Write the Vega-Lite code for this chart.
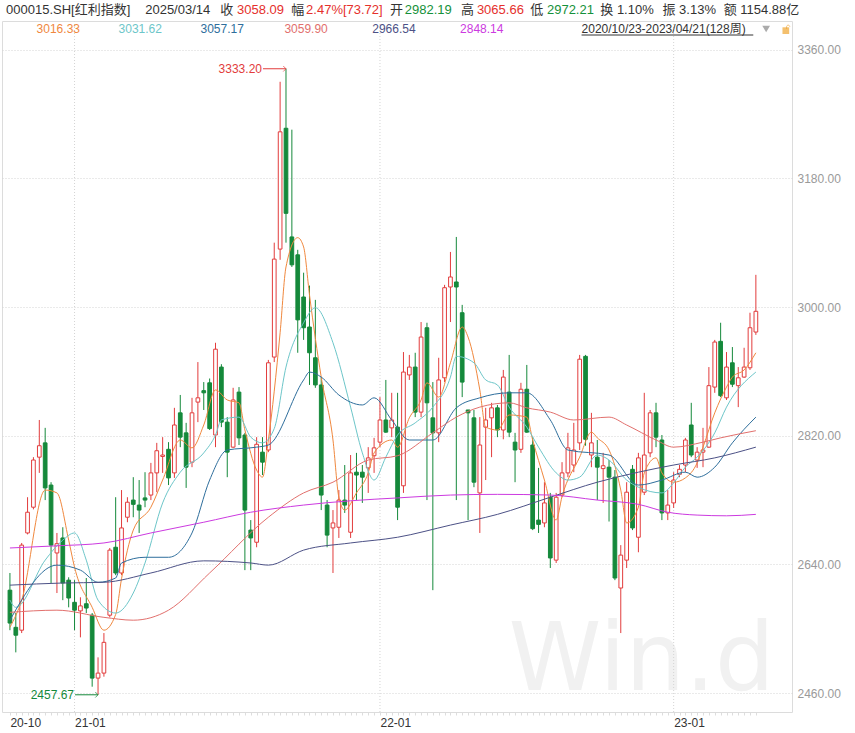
{
"$schema": "https://vega.github.io/schema/vega-lite/v6.json",
"width": 790, "height": 691,
"autosize": {"type": "none"},
"padding": {"left": 2, "top": 21, "right": 63, "bottom": 21},
"background": "white",
"config": {"view": {"stroke": "#dcdcdc"}, "text": {"font": "Liberation Sans, Noto Sans CJK SC"}},
"resolve": {"axis": {"x": "independent", "y": "independent"}},
"datasets": {
"k": [
{"i":0,"o":2604,"h":2628,"l":2548,"c":2558},{"i":1,"o":2552,"h":2572,"l":2517,"c":2541},{"i":2,"o":2548,"h":2670,"l":2544,"c":2667},{"i":3,"o":2684,"h":2734,"l":2682,"c":2713},{"i":4,"o":2720,"h":2790,"l":2717,"c":2786},{"i":5,"o":2790,"h":2842,"l":2768,"c":2806},{"i":6,"o":2810,"h":2831,"l":2730,"c":2747},{"i":7,"o":2751,"h":2755,"l":2614,"c":2667},{"i":8,"o":2656,"h":2684,"l":2600,"c":2669},{"i":9,"o":2677,"h":2692,"l":2590,"c":2614},
{"i":10,"o":2618,"h":2622,"l":2580,"c":2593},{"i":11,"o":2587,"h":2618,"l":2548,"c":2576},{"i":12,"o":2575,"h":2594,"l":2538,"c":2582},{"i":13,"o":2585,"h":2621,"l":2572,"c":2579},{"i":14,"o":2569,"h":2572,"l":2469,"c":2481},{"i":15,"o":2481,"h":2510,"l":2457.67,"c":2488},{"i":16,"o":2488,"h":2544,"l":2483,"c":2531},{"i":17,"o":2569,"h":2663,"l":2566,"c":2660},{"i":18,"o":2664,"h":2734,"l":2625,"c":2628},{"i":19,"o":2628,"h":2744,"l":2625,"c":2691},
{"i":20,"o":2706,"h":2734,"l":2699,"c":2727},{"i":21,"o":2730,"h":2762,"l":2706,"c":2724},{"i":22,"o":2723,"h":2758,"l":2684,"c":2716},{"i":23,"o":2733,"h":2769,"l":2720,"c":2730},{"i":24,"o":2737,"h":2782,"l":2730,"c":2768},{"i":25,"o":2768,"h":2810,"l":2741,"c":2799},{"i":26,"o":2791,"h":2818,"l":2768,"c":2793},{"i":27,"o":2801,"h":2811,"l":2751,"c":2761},{"i":28,"o":2768,"h":2859,"l":2761,"c":2835},{"i":29,"o":2852,"h":2877,"l":2804,"c":2818},
{"i":30,"o":2824,"h":2838,"l":2747,"c":2776},{"i":31,"o":2783,"h":2873,"l":2776,"c":2852},{"i":32,"o":2867,"h":2923,"l":2839,"c":2873},{"i":33,"o":2883,"h":2895,"l":2856,"c":2880},{"i":34,"o":2894,"h":2900,"l":2828,"c":2830},{"i":35,"o":2821,"h":2950,"l":2804,"c":2941},{"i":36,"o":2916,"h":2920,"l":2832,"c":2839},{"i":37,"o":2839,"h":2846,"l":2762,"c":2797},{"i":38,"o":2804,"h":2887,"l":2803,"c":2870},{"i":39,"o":2881,"h":2888,"l":2807,"c":2817},
{"i":40,"o":2821,"h":2824,"l":2632,"c":2716},{"i":41,"o":2688,"h":2702,"l":2632,"c":2677},{"i":42,"o":2671,"h":2818,"l":2664,"c":2808},{"i":43,"o":2797,"h":2818,"l":2765,"c":2783},{"i":44,"o":2800,"h":2926,"l":2797,"c":2922},{"i":45,"o":2930,"h":3090,"l":2923,"c":3067},{"i":46,"o":3081,"h":3315,"l":3066,"c":3245},{"i":47,"o":3250,"h":3333.2,"l":3090,"c":3131},{"i":48,"o":3098,"h":3248,"l":3056,"c":3059},{"i":49,"o":3073,"h":3080,"l":2936,"c":2982},
{"i":50,"o":3014,"h":3048,"l":2954,"c":2971},{"i":51,"o":2972,"h":3030,"l":2891,"c":2936},{"i":52,"o":2929,"h":3010,"l":2887,"c":2891},{"i":53,"o":2891,"h":2902,"l":2716,"c":2737},{"i":54,"o":2723,"h":2730,"l":2664,"c":2681},{"i":55,"o":2691,"h":2716,"l":2628,"c":2698},{"i":56,"o":2692,"h":2744,"l":2677,"c":2730},{"i":57,"o":2730,"h":2779,"l":2712,"c":2723},{"i":58,"o":2685,"h":2793,"l":2677,"c":2768},{"i":59,"o":2769,"h":2796,"l":2730,"c":2765},
{"i":60,"o":2769,"h":2779,"l":2726,"c":2762},{"i":61,"o":2775,"h":2804,"l":2740,"c":2789},{"i":62,"o":2792,"h":2817,"l":2768,"c":2803},{"i":63,"o":2811,"h":2874,"l":2804,"c":2842},{"i":64,"o":2842,"h":2898,"l":2824,"c":2825},{"i":65,"o":2831,"h":2880,"l":2818,"c":2842},{"i":66,"o":2832,"h":2880,"l":2702,"c":2720},{"i":67,"o":2750,"h":2937,"l":2740,"c":2909},{"i":68,"o":2905,"h":2933,"l":2898,"c":2916},{"i":69,"o":2916,"h":2936,"l":2846,"c":2853},
{"i":70,"o":2853,"h":2979,"l":2846,"c":2958},{"i":71,"o":2971,"h":2978,"l":2730,"c":2866},{"i":72,"o":2845,"h":2895,"l":2604,"c":2824},{"i":73,"o":2824,"h":2929,"l":2811,"c":2898},{"i":74,"o":2901,"h":3031,"l":2895,"c":3027},{"i":75,"o":3028,"h":3077,"l":2979,"c":3042},{"i":76,"o":3035,"h":3098,"l":2730,"c":3028},{"i":77,"o":2992,"h":3003,"l":2874,"c":2895},{"i":78,"o":2856,"h":2856,"l":2702,"c":2852},{"i":79,"o":2845,"h":2856,"l":2748,"c":2755},
{"i":80,"o":2740,"h":2846,"l":2684,"c":2807},{"i":81,"o":2832,"h":2859,"l":2758,"c":2842},{"i":82,"o":2845,"h":2866,"l":2790,"c":2859},{"i":83,"o":2859,"h":2863,"l":2818,"c":2828},{"i":84,"o":2828,"h":2912,"l":2815,"c":2902},{"i":85,"o":2881,"h":2933,"l":2818,"c":2825},{"i":86,"o":2811,"h":2824,"l":2755,"c":2800},{"i":87,"o":2801,"h":2894,"l":2796,"c":2885},{"i":88,"o":2885,"h":2919,"l":2824,"c":2825},{"i":89,"o":2807,"h":2818,"l":2688,"c":2690},
{"i":90,"o":2702,"h":2775,"l":2684,"c":2696},{"i":91,"o":2698,"h":2755,"l":2692,"c":2726},{"i":92,"o":2734,"h":2740,"l":2635,"c":2649},{"i":93,"o":2646,"h":2740,"l":2642,"c":2734},{"i":94,"o":2737,"h":2783,"l":2734,"c":2768},{"i":95,"o":2768,"h":2824,"l":2762,"c":2803},{"i":96,"o":2779,"h":2838,"l":2769,"c":2800},{"i":97,"o":2810,"h":2933,"l":2800,"c":2927},{"i":98,"o":2931,"h":2933,"l":2806,"c":2815},{"i":99,"o":2793,"h":2852,"l":2776,"c":2810},
{"i":100,"o":2790,"h":2814,"l":2730,"c":2776},{"i":101,"o":2774,"h":2796,"l":2726,"c":2778},{"i":102,"o":2776,"h":2786,"l":2700,"c":2762},{"i":103,"o":2762,"h":2772,"l":2618,"c":2621},{"i":104,"o":2607,"h":2667,"l":2544,"c":2653},{"i":105,"o":2646,"h":2755,"l":2635,"c":2741},{"i":106,"o":2773,"h":2779,"l":2688,"c":2691},{"i":107,"o":2678,"h":2796,"l":2657,"c":2789},{"i":108,"o":2741,"h":2880,"l":2737,"c":2793},{"i":109,"o":2796,"h":2856,"l":2790,"c":2852},
{"i":110,"o":2852,"h":2866,"l":2804,"c":2818},{"i":111,"o":2814,"h":2821,"l":2702,"c":2712},{"i":112,"o":2712,"h":2744,"l":2702,"c":2723},{"i":113,"o":2726,"h":2769,"l":2719,"c":2758},{"i":114,"o":2766,"h":2779,"l":2762,"c":2773},{"i":115,"o":2779,"h":2817,"l":2769,"c":2814},{"i":116,"o":2835,"h":2866,"l":2790,"c":2793},{"i":117,"o":2786,"h":2804,"l":2775,"c":2797},{"i":118,"o":2797,"h":2831,"l":2776,"c":2800},{"i":119,"o":2804,"h":2916,"l":2803,"c":2890},
{"i":120,"o":2888,"h":2954,"l":2880,"c":2951},{"i":121,"o":2952,"h":2978,"l":2874,"c":2876},{"i":122,"o":2873,"h":2937,"l":2870,"c":2916},{"i":123,"o":2922,"h":2944,"l":2888,"c":2892},{"i":124,"o":2890,"h":2916,"l":2860,"c":2901},{"i":125,"o":2902,"h":2943,"l":2901,"c":2916},{"i":126,"o":2915,"h":2992,"l":2912,"c":2971},{"i":127,"o":2965,"h":3045,"l":2961,"c":2994}
],
"ma": [
{"m":"a","i":0,"v":2552},{"m":"a","i":2,"v":2590},{"m":"a","i":6,"v":2744},{"m":"a","i":8,"v":2740},{"m":"a","i":10,"v":2674},{"m":"a","i":11,"v":2636},{"m":"a","i":14,"v":2580},{"m":"a","i":16,"v":2548},{"m":"a","i":18,"v":2570},{"m":"a","i":19,"v":2620},{"m":"a","i":21,"v":2688},{"m":"a","i":24,"v":2720},{"m":"a","i":26,"v":2758},{"m":"a","i":29,"v":2814},{"m":"a","i":31,"v":2803},{"m":"a","i":33,"v":2835},{"m":"a","i":35,"v":2884},{"m":"a","i":37,"v":2870},{"m":"a","i":39,"v":2866},{"m":"a","i":40,"v":2828},{"m":"a","i":42,"v":2772},{"m":"a","i":43,"v":2762},{"m":"a","i":44,"v":2814},{"m":"a","i":46,"v":2964},{"m":"a","i":47,"v":3056},{"m":"a","i":49,"v":3097},{"m":"a","i":50,"v":3084},{"m":"a","i":51,"v":3017},{"m":"a","i":53,"v":2902},{"m":"a","i":55,"v":2814},{"m":"a","i":56,"v":2734},{"m":"a","i":57,"v":2716},{"m":"a","i":59,"v":2740},{"m":"a","i":61,"v":2768},{"m":"a","i":62,"v":2796},{"m":"a","i":65,"v":2814},{"m":"a","i":66,"v":2804},{"m":"a","i":68,"v":2845},{"m":"a","i":70,"v":2870},{"m":"a","i":71,"v":2894},{"m":"a","i":73,"v":2874},{"m":"a","i":75,"v":2922},{"m":"a","i":77,"v":2972},{"m":"a","i":78,"v":2958},{"m":"a","i":80,"v":2884},{"m":"a","i":81,"v":2832},{"m":"a","i":83,"v":2828},{"m":"a","i":85,"v":2849},{"m":"a","i":88,"v":2846},{"m":"a","i":89,"v":2814},{"m":"a","i":91,"v":2758},{"m":"a","i":93,"v":2702},{"m":"a","i":94,"v":2735},{"m":"a","i":97,"v":2790},{"m":"a","i":99,"v":2825},{"m":"a","i":100,"v":2817},{"m":"a","i":102,"v":2800},{"m":"a","i":104,"v":2744},{"m":"a","i":105,"v":2698},{"m":"a","i":107,"v":2720},{"m":"a","i":108,"v":2768},{"m":"a","i":110,"v":2789},{"m":"a","i":111,"v":2768},{"m":"a","i":113,"v":2755},{"m":"a","i":115,"v":2761},{"m":"a","i":117,"v":2782},{"m":"a","i":118,"v":2804},{"m":"a","i":120,"v":2852},{"m":"a","i":122,"v":2888},{"m":"a","i":123,"v":2902},{"m":"a","i":125,"v":2912},{"m":"a","i":127,"v":2936},
{"m":"b","i":0,"v":2590},{"m":"b","i":1,"v":2580},{"m":"b","i":6,"v":2646},{"m":"b","i":9,"v":2674},{"m":"b","i":11,"v":2684},{"m":"b","i":13,"v":2646},{"m":"b","i":15,"v":2590},{"m":"b","i":18,"v":2572},{"m":"b","i":21,"v":2600},{"m":"b","i":23,"v":2642},{"m":"b","i":26,"v":2726},{"m":"b","i":29,"v":2769},{"m":"b","i":33,"v":2796},{"m":"b","i":35,"v":2821},{"m":"b","i":36,"v":2842},{"m":"b","i":39,"v":2846},{"m":"b","i":41,"v":2818},{"m":"b","i":43,"v":2810},{"m":"b","i":45,"v":2830},{"m":"b","i":47,"v":2916},{"m":"b","i":50,"v":2978},{"m":"b","i":52,"v":2999},{"m":"b","i":55,"v":2950},{"m":"b","i":58,"v":2860},{"m":"b","i":60,"v":2796},{"m":"b","i":62,"v":2758},{"m":"b","i":64,"v":2790},{"m":"b","i":66,"v":2821},{"m":"b","i":69,"v":2838},{"m":"b","i":72,"v":2860},{"m":"b","i":75,"v":2902},{"m":"b","i":76,"v":2931},{"m":"b","i":79,"v":2922},{"m":"b","i":81,"v":2898},{"m":"b","i":83,"v":2891},{"m":"b","i":85,"v":2860},{"m":"b","i":88,"v":2832},{"m":"b","i":90,"v":2804},{"m":"b","i":93,"v":2768},{"m":"b","i":95,"v":2758},{"m":"b","i":97,"v":2762},{"m":"b","i":100,"v":2793},{"m":"b","i":102,"v":2786},{"m":"b","i":105,"v":2758},{"m":"b","i":107,"v":2748},{"m":"b","i":111,"v":2740},{"m":"b","i":113,"v":2754},{"m":"b","i":115,"v":2776},{"m":"b","i":117,"v":2790},{"m":"b","i":120,"v":2824},{"m":"b","i":122,"v":2860},{"m":"b","i":127,"v":2909},
{"m":"c","i":0,"v":2562},{"m":"c","i":8,"v":2639},{"m":"c","i":12,"v":2632},{"m":"c","i":15,"v":2615},{"m":"c","i":18,"v":2621},{"m":"c","i":19,"v":2642},{"m":"c","i":23,"v":2650},{"m":"c","i":27,"v":2650},{"m":"c","i":31,"v":2684},{"m":"c","i":34,"v":2758},{"m":"c","i":37,"v":2800},{"m":"c","i":42,"v":2804},{"m":"c","i":44,"v":2807},{"m":"c","i":50,"v":2898},{"m":"c","i":51,"v":2909},{"m":"c","i":53,"v":2902},{"m":"c","i":56,"v":2877},{"m":"c","i":60,"v":2863},{"m":"c","i":62,"v":2873},{"m":"c","i":65,"v":2842},{"m":"c","i":68,"v":2814},{"m":"c","i":72,"v":2814},{"m":"c","i":76,"v":2859},{"m":"c","i":80,"v":2873},{"m":"c","i":85,"v":2880},{"m":"c","i":88,"v":2880},{"m":"c","i":92,"v":2842},{"m":"c","i":95,"v":2800},{"m":"c","i":102,"v":2793},{"m":"c","i":107,"v":2751},{"m":"c","i":111,"v":2758},{"m":"c","i":115,"v":2769},{"m":"c","i":117,"v":2762},{"m":"c","i":120,"v":2776},{"m":"c","i":123,"v":2810},{"m":"c","i":127,"v":2846},
{"m":"d","i":0,"v":2573},{"m":"d","i":8,"v":2576},{"m":"d","i":16,"v":2566},{"m":"d","i":21,"v":2562},{"m":"d","i":27,"v":2576},{"m":"d","i":34,"v":2628},{"m":"d","i":44,"v":2706},{"m":"d","i":50,"v":2740},{"m":"d","i":55,"v":2755},{"m":"d","i":61,"v":2786},{"m":"d","i":66,"v":2792},{"m":"d","i":72,"v":2824},{"m":"d","i":76,"v":2846},{"m":"d","i":80,"v":2860},{"m":"d","i":85,"v":2866},{"m":"d","i":88,"v":2859},{"m":"d","i":92,"v":2853},{"m":"d","i":96,"v":2842},{"m":"d","i":102,"v":2846},{"m":"d","i":105,"v":2835},{"m":"d","i":110,"v":2814},{"m":"d","i":113,"v":2804},{"m":"d","i":118,"v":2811},{"m":"d","i":121,"v":2817},{"m":"d","i":127,"v":2827},
{"m":"e","i":0,"v":2611},{"m":"e","i":9,"v":2614},{"m":"e","i":16,"v":2615},{"m":"e","i":24,"v":2628},{"m":"e","i":33,"v":2645},{"m":"e","i":41,"v":2642},{"m":"e","i":44,"v":2639},{"m":"e","i":50,"v":2660},{"m":"e","i":58,"v":2670},{"m":"e","i":66,"v":2678},{"m":"e","i":75,"v":2695},{"m":"e","i":83,"v":2710},{"m":"e","i":92,"v":2734},{"m":"e","i":100,"v":2755},{"m":"e","i":107,"v":2769},{"m":"e","i":113,"v":2779},{"m":"e","i":120,"v":2789},{"m":"e","i":127,"v":2804},
{"m":"f","i":0,"v":2663},{"m":"f","i":8,"v":2666},{"m":"f","i":16,"v":2670},{"m":"f","i":24,"v":2684},{"m":"f","i":33,"v":2699},{"m":"f","i":41,"v":2713},{"m":"f","i":50,"v":2723},{"m":"f","i":58,"v":2729},{"m":"f","i":66,"v":2733},{"m":"f","i":75,"v":2737},{"m":"f","i":83,"v":2738},{"m":"f","i":92,"v":2737},{"m":"f","i":100,"v":2730},{"m":"f","i":107,"v":2724},{"m":"f","i":112,"v":2713},{"m":"f","i":117,"v":2709},{"m":"f","i":122,"v":2708},{"m":"f","i":127,"v":2710}
]
},
"layer": [
{"data": {"values": [{}]}, "mark": {"type": "text", "align": "left", "baseline": "bottom", "fontSize": 94, "color": "#f1f1f1", "font": "DejaVu Sans"},
 "encoding": {"x": {"datum": 84.9, "type": "quantitative", "axis": null}, "y": {"datum": 2437, "type": "quantitative", "axis": null}, "text": {"value": "Win.d"}}},
{"data": {"values": [{"g": 11}, {"g": 63}, {"g": 113}]}, "mark": {"type": "rule", "color": "#d4d4d4", "strokeDash": [1, 2]},
 "encoding": {"x": {"field": "g", "type": "quantitative", "axis": null}}},
{"data": {"name": "k"}, "mark": {"type": "rule", "strokeWidth": 1},
 "encoding": {
  "x": {"field": "i", "type": "quantitative", "scale": {"domain": [-0.5, 132.3], "nice": false, "zero": false},
   "axis": {"orient": "bottom", "title": null, "domain": false, "grid": false, "ticks": true, "tickSize": 3, "tickColor": "#dddddd", "labelAlign": "left", "labelPadding": 2, "labelColor": "#333333", "labelFontSize": 12, "labelFont": "Liberation Sans", "labelOverlap": false, "labelFlush": false,
    "values": [0,1,2,3,4,5,6,7,8,9,10,11,12,13,14,15,16,17,18,19,20,21,22,23,24,25,26,27,28,29,30,31,32,33,34,35,36,37,38,39,40,41,42,43,44,45,46,47,48,49,50,51,52,53,54,55,56,57,58,59,60,61,62,63,64,65,66,67,68,69,70,71,72,73,74,75,76,77,78,79,80,81,82,83,84,85,86,87,88,89,90,91,92,93,94,95,96,97,98,99,100,101,102,103,104,105,106,107,108,109,110,111,112,113,114,115,116,117,118,119,120,121,122,123,124,125,126,127],
    "labelExpr": "datum.value == 0 ? '20-10' : datum.value == 11 ? '21-01' : datum.value == 63 ? '22-01' : datum.value == 113 ? '23-01' : ''"}},
  "y": {"field": "l", "type": "quantitative", "scale": {"domain": [2433.6, 3400], "nice": false, "zero": false},
   "axis": {"orient": "right", "title": null, "values": [2460, 2640, 2820, 3000, 3180, 3360], "format": ".2f", "domain": false, "ticks": false, "labelPadding": 5, "labelColor": "#9a9a9a", "labelFontSize": 12, "labelFont": "Liberation Sans", "grid": true, "gridColor": "#d4d4d4", "gridDash": [1, 2]}},
  "y2": {"field": "h"},
  "color": {"condition": {"test": "datum.c >= datum.o", "value": "#e23c3c"}, "value": "#15893b"}
 }},
{"data": {"name": "k"}, "mark": {"type": "bar", "size": 3.7, "strokeWidth": 1},
 "encoding": {
  "x": {"field": "i", "type": "quantitative", "axis": null},
  "y": {"field": "o", "type": "quantitative", "axis": null},
  "y2": {"field": "c"},
  "fill": {"condition": {"test": "datum.c >= datum.o", "value": "#ffffff"}, "value": "#15893b"},
  "stroke": {"condition": {"test": "datum.c >= datum.o", "value": "#e23c3c"}, "value": "#15893b"}
 }},
{"data": {"name": "ma"}, "mark": {"type": "line", "strokeWidth": 1, "interpolate": "monotone"},
 "encoding": {
  "x": {"field": "i", "type": "quantitative", "axis": null},
  "y": {"field": "v", "type": "quantitative", "axis": null},
  "color": {"field": "m", "type": "nominal", "legend": null, "scale": {"domain": ["a", "b", "c", "d", "e", "f"], "range": ["#f0883e", "#6dc6c9", "#2e6e9c", "#e2706d", "#4c5186", "#cc3ae0"]}}
 }},
{"data": {"values": [{"i": 47, "v": 3333.2, "s": "3333.20"}, {"i": 15, "v": 2457.67, "s": "2457.67"}]},
 "layer": [
  {"mark": {"type": "text", "align": "right", "baseline": "middle", "dx": -24, "fontSize": 12, "font": "Liberation Sans"},
   "encoding": {"x": {"field": "i", "type": "quantitative", "axis": null}, "y": {"field": "v", "type": "quantitative", "axis": null}, "text": {"field": "s"},
    "color": {"condition": {"test": "datum.v > 3000", "value": "#e23c3c"}, "value": "#15893b"}}},
  {"mark": {"type": "rule", "xOffset": -23, "x2Offset": 0, "strokeWidth": 1},
   "encoding": {"x": {"field": "i", "type": "quantitative", "axis": null}, "x2": {"field": "i"}, "y": {"field": "v", "type": "quantitative", "axis": null},
    "color": {"condition": {"test": "datum.v > 3000", "value": "#e23c3c"}, "value": "#15893b"}}},
  {"mark": {"type": "point", "shape": "M -1 -1 L 0 0 L -1 1", "filled": false, "size": 30, "strokeWidth": 1},
   "encoding": {"x": {"field": "i", "type": "quantitative", "axis": null}, "y": {"field": "v", "type": "quantitative", "axis": null},
    "color": {"condition": {"test": "datum.v > 3000", "value": "#e23c3c"}, "value": "#15893b"}}}
 ]},
{"data": {"values": [{}]},
 "layer": [
  {"mark": {"type": "text", "align": "left", "baseline": "middle", "fontSize": 13, "color": "#333333"}, "encoding": {"x": {"datum": -0.67, "type": "quantitative", "axis": null}, "y": {"datum": 3415.4, "type": "quantitative", "axis": null}, "text": {"value": "000015.SH[红利指数]"}}},
  {"mark": {"type": "text", "align": "left", "baseline": "middle", "fontSize": 13, "color": "#333333"}, "encoding": {"x": {"datum": 23.03, "type": "quantitative", "axis": null}, "y": {"datum": 3415.4, "type": "quantitative", "axis": null}, "text": {"value": "2025/03/14"}}},
  {"mark": {"type": "text", "align": "left", "baseline": "middle", "fontSize": 13, "color": "#333333"}, "encoding": {"x": {"datum": 35.8, "type": "quantitative", "axis": null}, "y": {"datum": 3415.4, "type": "quantitative", "axis": null}, "text": {"value": "收"}}},
  {"mark": {"type": "text", "align": "left", "baseline": "middle", "fontSize": 13, "color": "#e5302c"}, "encoding": {"x": {"datum": 38.66, "type": "quantitative", "axis": null}, "y": {"datum": 3415.4, "type": "quantitative", "axis": null}, "text": {"value": "3058.09"}}},
  {"mark": {"type": "text", "align": "left", "baseline": "middle", "fontSize": 13, "color": "#333333"}, "encoding": {"x": {"datum": 47.9, "type": "quantitative", "axis": null}, "y": {"datum": 3415.4, "type": "quantitative", "axis": null}, "text": {"value": "幅"}}},
  {"mark": {"type": "text", "align": "left", "baseline": "middle", "fontSize": 13, "color": "#e5302c"}, "encoding": {"x": {"datum": 50.42, "type": "quantitative", "axis": null}, "y": {"datum": 3415.4, "type": "quantitative", "axis": null}, "text": {"value": "2.47%[73.72]"}}},
  {"mark": {"type": "text", "align": "left", "baseline": "middle", "fontSize": 13, "color": "#333333"}, "encoding": {"x": {"datum": 64.71, "type": "quantitative", "axis": null}, "y": {"datum": 3415.4, "type": "quantitative", "axis": null}, "text": {"value": "开"}}},
  {"mark": {"type": "text", "align": "left", "baseline": "middle", "fontSize": 13, "color": "#15913a"}, "encoding": {"x": {"datum": 67.23, "type": "quantitative", "axis": null}, "y": {"datum": 3415.4, "type": "quantitative", "axis": null}, "text": {"value": "2982.19"}}},
  {"mark": {"type": "text", "align": "left", "baseline": "middle", "fontSize": 13, "color": "#333333"}, "encoding": {"x": {"datum": 76.81, "type": "quantitative", "axis": null}, "y": {"datum": 3415.4, "type": "quantitative", "axis": null}, "text": {"value": "高"}}},
  {"mark": {"type": "text", "align": "left", "baseline": "middle", "fontSize": 13, "color": "#e5302c"}, "encoding": {"x": {"datum": 79.5, "type": "quantitative", "axis": null}, "y": {"datum": 3415.4, "type": "quantitative", "axis": null}, "text": {"value": "3065.66"}}},
  {"mark": {"type": "text", "align": "left", "baseline": "middle", "fontSize": 13, "color": "#333333"}, "encoding": {"x": {"datum": 88.58, "type": "quantitative", "axis": null}, "y": {"datum": 3415.4, "type": "quantitative", "axis": null}, "text": {"value": "低"}}},
  {"mark": {"type": "text", "align": "left", "baseline": "middle", "fontSize": 13, "color": "#15913a"}, "encoding": {"x": {"datum": 91.43, "type": "quantitative", "axis": null}, "y": {"datum": 3415.4, "type": "quantitative", "axis": null}, "text": {"value": "2972.21"}}},
  {"mark": {"type": "text", "align": "left", "baseline": "middle", "fontSize": 13, "color": "#333333"}, "encoding": {"x": {"datum": 100.51, "type": "quantitative", "axis": null}, "y": {"datum": 3415.4, "type": "quantitative", "axis": null}, "text": {"value": "换 1.10%"}}},
  {"mark": {"type": "text", "align": "left", "baseline": "middle", "fontSize": 13, "color": "#333333"}, "encoding": {"x": {"datum": 111.1, "type": "quantitative", "axis": null}, "y": {"datum": 3415.4, "type": "quantitative", "axis": null}, "text": {"value": "振 3.13%"}}},
  {"mark": {"type": "text", "align": "left", "baseline": "middle", "fontSize": 13, "color": "#333333"}, "encoding": {"x": {"datum": 121.52, "type": "quantitative", "axis": null}, "y": {"datum": 3415.4, "type": "quantitative", "axis": null}, "text": {"value": "额 1154.88亿"}}},
  {"mark": {"type": "text", "align": "left", "baseline": "middle", "fontSize": 12, "color": "#f0883e"}, "encoding": {"x": {"datum": 4.54, "type": "quantitative", "axis": null}, "y": {"datum": 3388.8, "type": "quantitative", "axis": null}, "text": {"value": "3016.33"}}},
  {"mark": {"type": "text", "align": "left", "baseline": "middle", "fontSize": 12, "color": "#6dc6c9"}, "encoding": {"x": {"datum": 18.49, "type": "quantitative", "axis": null}, "y": {"datum": 3388.8, "type": "quantitative", "axis": null}, "text": {"value": "3031.62"}}},
  {"mark": {"type": "text", "align": "left", "baseline": "middle", "fontSize": 12, "color": "#2e6e9c"}, "encoding": {"x": {"datum": 32.44, "type": "quantitative", "axis": null}, "y": {"datum": 3388.8, "type": "quantitative", "axis": null}, "text": {"value": "3057.17"}}},
  {"mark": {"type": "text", "align": "left", "baseline": "middle", "fontSize": 12, "color": "#e2706d"}, "encoding": {"x": {"datum": 46.73, "type": "quantitative", "axis": null}, "y": {"datum": 3388.8, "type": "quantitative", "axis": null}, "text": {"value": "3059.90"}}},
  {"mark": {"type": "text", "align": "left", "baseline": "middle", "fontSize": 12, "color": "#4c5186"}, "encoding": {"x": {"datum": 61.68, "type": "quantitative", "axis": null}, "y": {"datum": 3388.8, "type": "quantitative", "axis": null}, "text": {"value": "2966.54"}}},
  {"mark": {"type": "text", "align": "left", "baseline": "middle", "fontSize": 12, "color": "#cc3ae0"}, "encoding": {"x": {"datum": 76.64, "type": "quantitative", "axis": null}, "y": {"datum": 3388.8, "type": "quantitative", "axis": null}, "text": {"value": "2848.14"}}},
  {"mark": {"type": "text", "align": "left", "baseline": "middle", "fontSize": 12, "color": "#333333"}, "encoding": {"x": {"datum": 97.32, "type": "quantitative", "axis": null}, "y": {"datum": 3388.8, "type": "quantitative", "axis": null}, "text": {"value": "2020/10/23-2023/04/21(128周)"}}},
  {"mark": {"type": "rule", "color": "#333333", "strokeWidth": 1}, "encoding": {"x": {"datum": 97.32, "type": "quantitative", "axis": null}, "x2": {"datum": 126.56}, "y": {"datum": 3380.4, "type": "quantitative", "axis": null}}},
  {"mark": {"type": "point", "shape": "triangle-down", "filled": true, "size": 60, "color": "#888888"}, "encoding": {"x": {"datum": 128.75, "type": "quantitative", "axis": null}, "y": {"datum": 3388.8, "type": "quantitative", "axis": null}}},
  {"mark": {"type": "point", "shape": "square", "filled": true, "size": 45, "color": "#f0a531"}, "encoding": {"x": {"datum": 132.1, "type": "quantitative", "axis": null}, "y": {"datum": 3386.5, "type": "quantitative", "axis": null}}},
  {"mark": {"type": "point", "shape": "M -0.5 0.6 L -0.5 -0.1 A 0.5 0.5 0 0 1 0.5 -0.1", "filled": false, "size": 40, "strokeWidth": 1, "color": "#f0a531"}, "encoding": {"x": {"datum": 132.5, "type": "quantitative", "axis": null}, "y": {"datum": 3391.5, "type": "quantitative", "axis": null}}}
 ]}
]
}
